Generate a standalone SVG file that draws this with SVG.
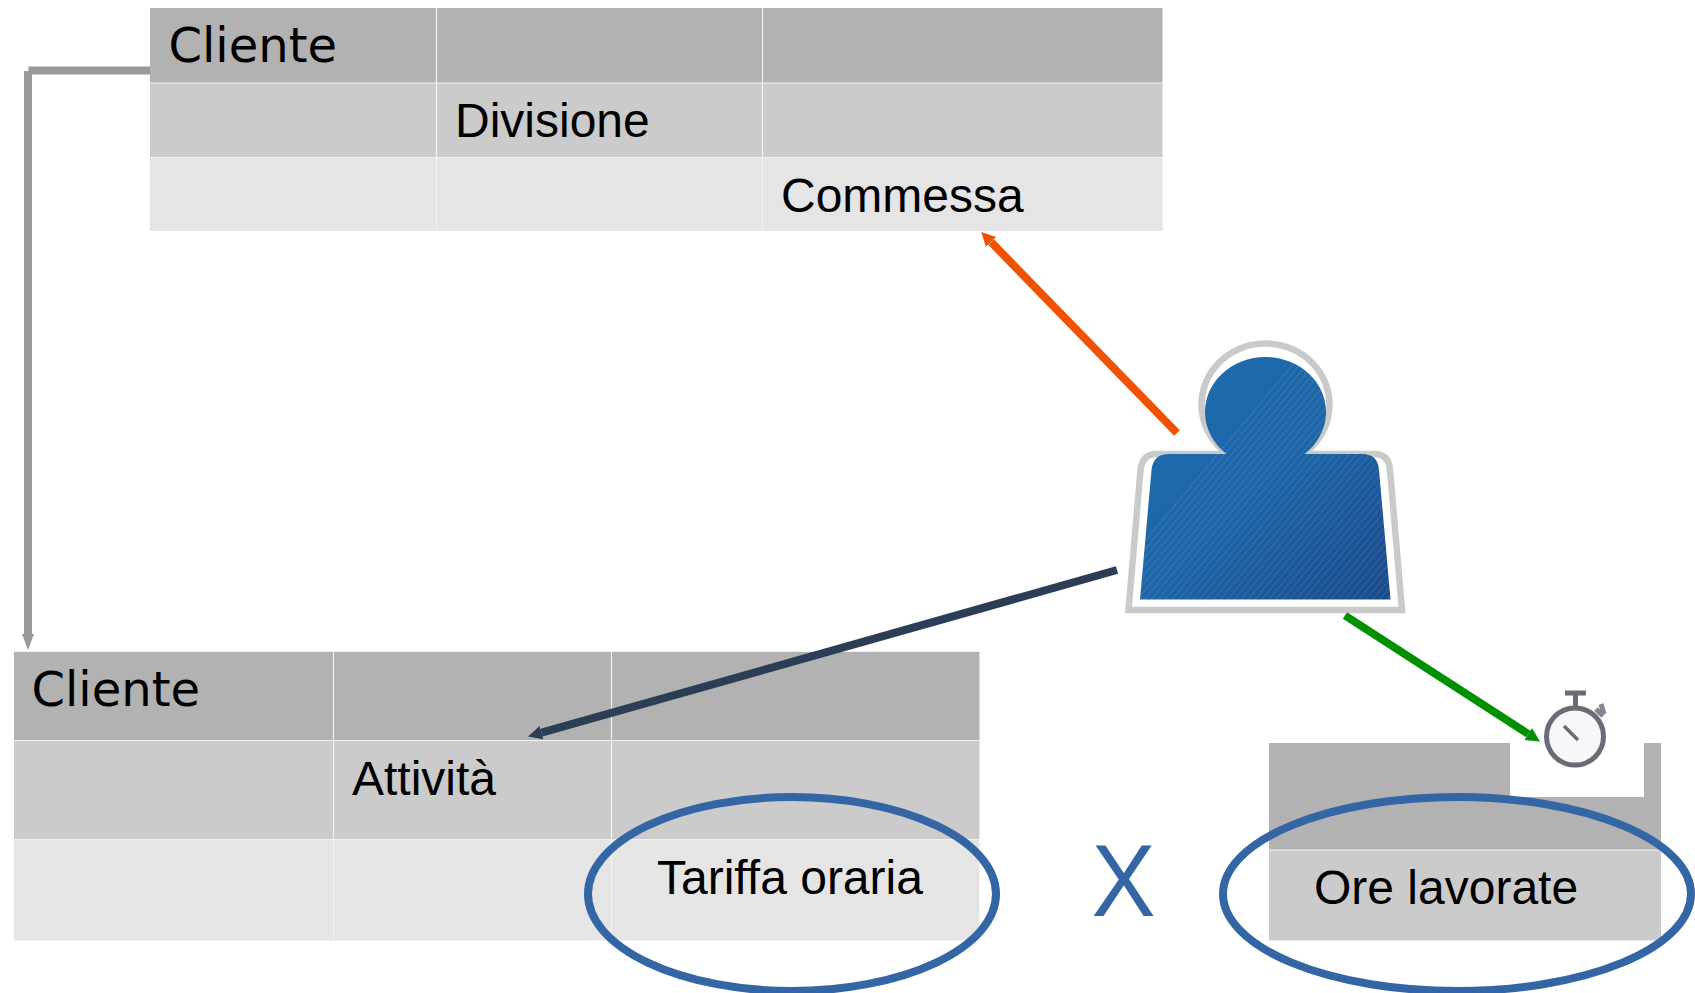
<svg xmlns="http://www.w3.org/2000/svg" width="1695" height="993" viewBox="0 0 1695 993">
<style>
.r1{fill:#b2b2b2}.r2{fill:#cbcbcb}.r3{fill:#e5e5e5}
.grid{stroke:#f2f2f2;stroke-width:1.2;fill:none}
.dj{font-family:"DejaVu Sans",sans-serif;font-size:48px;fill:#000}
.lib{font-family:"Liberation Sans",Arial,sans-serif;font-size:48px;fill:#000}
.ring{fill:none;stroke:#3465a4;stroke-width:8}
.conn{fill:none;stroke-width:8}
</style>
<defs>
<marker id="aGrey" markerUnits="userSpaceOnUse" markerWidth="18" markerHeight="16" refX="0" refY="8" orient="auto"><path d="M0,2 L16,8 L0,14 z" fill="#999"/></marker>
<marker id="aOrange" markerUnits="userSpaceOnUse" markerWidth="16" markerHeight="16" refX="0" refY="8" orient="auto"><path d="M0,1 L14,8 L0,15 z" fill="#f15100"/></marker>
<marker id="aDark" markerUnits="userSpaceOnUse" markerWidth="16" markerHeight="16" refX="0" refY="8" orient="auto"><path d="M0,1 L14,8 L0,15 z" fill="#2c3e55"/></marker>
<marker id="aGreen" markerUnits="userSpaceOnUse" markerWidth="16" markerHeight="16" refX="0" refY="8" orient="auto"><path d="M0,1 L14,8 L0,15 z" fill="#009000"/></marker>
<linearGradient id="blue" x1="0" y1="0" x2="1" y2="1"><stop offset="0" stop-color="#1f6cae"/><stop offset=".5" stop-color="#1d66a8"/><stop offset="1" stop-color="#1a4a8c"/></linearGradient>
<pattern id="hatch" patternUnits="userSpaceOnUse" width="5.300" height="8" patternTransform="rotate(40)"><rect x="0" y="0" width="1" height="8" fill="#fff" fill-opacity=".11"/></pattern>
<clipPath id="diag"><polygon points="1130,557 1295,360 1400,360 1400,610 1130,610"/></clipPath>
</defs>

<g id="table-top">
<rect class="r1" x="150" y="8" width="1012.500" height="75"/>
<rect class="r2" x="150" y="83" width="1012.500" height="74.500"/>
<rect class="r3" x="150" y="157.500" width="1012.500" height="73.500"/>
<path class="grid" d="M150,83H1162.500M150,157.500H1162.500M436.500,8V231M762.500,8V231"/>
<text class="dj" x="168.500" y="62">Cliente</text>
<text class="lib" x="455" y="136.500">Divisione</text>
<text class="lib" x="781" y="211.500">Commessa</text>
</g>

<g id="table-bottom">
<rect class="r1" x="14" y="651.500" width="965.500" height="89"/>
<rect class="r2" x="14" y="740.500" width="965.500" height="99"/>
<rect class="r3" x="14" y="839.500" width="965.500" height="101"/>
<path class="grid" d="M14,651.500H979.500M14,740.500H979.500M14,839.500H979.500M333.500,651.500V940M611.500,651.500V940"/>
<text class="dj" x="31.500" y="705.500">Cliente</text>
<text class="lib" x="352" y="794.500">Attività</text>
<text class="lib" x="657" y="893.500">Tariffa oraria</text>
</g>

<g id="table-right">
<rect class="r1" x="1269" y="743" width="392" height="107"/>
<rect class="r2" x="1269" y="850" width="392" height="90.500"/>
<path class="grid" d="M1269,850H1661"/>
<rect x="1510" y="690" width="134" height="107" fill="#fff"/>
<text class="lib" x="1314" y="903.500">Ore lavorate</text>
</g>

<g id="stopwatch">
<circle cx="1575" cy="736.500" r="28.500" fill="#f6f6fb" stroke="#6b6b78" stroke-width="5"/>
<path d="M1565,693H1586M1575.500,693V708" fill="none" stroke="#6b6b78" stroke-width="5"/>
<path d="M1596,709L1603,716M1601,704L1604,714" fill="none" stroke="#85858f" stroke-width="5"/>
<path d="M1564,726L1578,740" fill="none" stroke="#6b6b78" stroke-width="3.500"/>
</g>

<g id="person">
<path d="M1228,454 A64,61 0 1 1 1303,454 H1374 Q1389,454 1390,470 L1402,610 H1128.500 L1140.500,470 Q1142,454 1157,454 Z" fill="#fff" stroke="#cacaca" stroke-width="6.500"/>
<g id="person-fill">
<path d="M1226.500,454 A60.500,55 0 1 1 1304.500,454 H1362 Q1378,454 1379,470 L1390.500,599.500 H1140 L1151.500,470 Q1153,454 1169,454 Z" fill="url(#blue)"/>
<path d="M1226.500,454 A60.500,55 0 1 1 1304.500,454 H1362 Q1378,454 1379,470 L1390.500,599.500 H1140 L1151.500,470 Q1153,454 1169,454 Z" fill="url(#hatch)" clip-path="url(#diag)"/>
</g>
</g>

<g id="connectors">
<path class="conn" d="M150,70.500H28.500M28,71V634" stroke="#999" marker-end="url(#aGrey)"/>
<path class="conn" d="M1177,433L991,242" stroke="#f15100" marker-end="url(#aOrange)"/>
<path class="conn" d="M1117,570L541.500,732.700" stroke="#2c3e55" marker-end="url(#aDark)"/>
<path class="conn" d="M1345,615.500L1528.200,734" stroke="#009000" marker-end="url(#aGreen)"/>
</g>

<g id="highlights">
<ellipse class="ring" cx="792" cy="894" rx="204" ry="97"/>
<ellipse class="ring" cx="1457" cy="894" rx="234" ry="97"/>
<text x="0" y="0" transform="translate(1123.500 916) scale(.96 1.02)" text-anchor="middle" font-family="Liberation Sans, Arial, sans-serif" font-size="100" fill="#3465a4">X</text>
</g>
</svg>
